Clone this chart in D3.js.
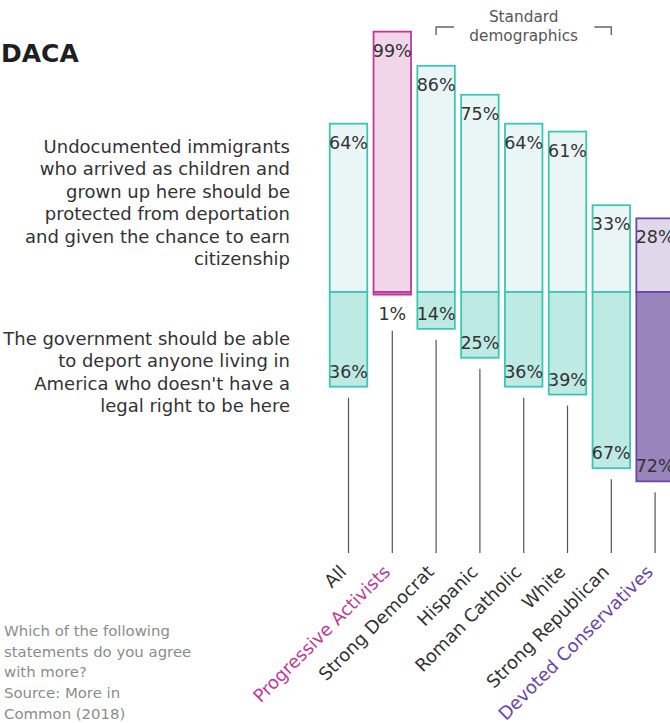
<!DOCTYPE html>
<html>
<head>
<meta charset="utf-8">
<script src="https://cdn.jsdelivr.net/npm/d3@7"></script>
<style>
  html, body { margin: 0; padding: 0; background: #fff; }
  svg { display: block; font-family: "DejaVu Sans", sans-serif; }
</style>
</head>
<body>
<svg id="chart" width="670" height="723"></svg>
<script>
// ---- data ----
const categories = ["All", "Progressive Activists", "Strong Democrat", "Hispanic",
  "Roman Catholic", "White", "Strong Republican", "Devoted Conservatives"];
const protectShare = [64, 99, 86, 75, 64, 61, 33, 28];
const deportShare = [36, 1, 14, 25, 36, 39, 67, 72];
const segments = ["standard", "progressive", "standard", "standard",
  "standard", "standard", "standard", "devoted"];
const statementProtect = ["Undocumented immigrants", "who arrived as children and",
  "grown up here should be", "protected from deportation",
  "and given the chance to earn", "citizenship"];
const statementDeport = ["The government should be able", "to deport anyone living in",
  "America who doesn't have a", "legal right to be here"];
const noteLines = ["Which of the following", "statements do you agree",
  "with more?", "Source: More in", "Common (2018)"];
const bracketLines = ["Standard", "demographics"];
const titleText = "DACA";

// ---- styles ----
const palette = {
  standard:    { stroke: "#3cc6b4", top: "#eaf6f5", bottom: "#bdeae3", label: "#333333" },
  progressive: { stroke: "#c0399a", top: "#f0d6e8", bottom: "#d77fbb", label: "#c0399a" },
  devoted:     { stroke: "#6a47a6", top: "#e0d8ea", bottom: "#9a84bc", label: "#6a47a6" }
};

const data = categories.map((c, i) => ({
  name: c, top: protectShare[i], bottom: deportShare[i], seg: segments[i]
}));

const svg = d3.select("#chart");
const baseY = 292;
const lineEndY = 553;

const x = d3.scaleBand()
  .domain(categories)
  .range([326.6, 677])
  .paddingInner(0.144)
  .paddingOuter(0.072);

const h = d3.scaleLinear().domain([0, 100]).range([0, 263]);

// Title
svg.append("text")
  .attr("x", 1).attr("y", 62)
  .attr("font-size", 25).attr("font-weight", "bold")
  .attr("fill", "#1f1f1f")
  .text(titleText);

// Text blocks
function block(lines, y0, lh, xr, size, color, anchor) {
  const t = svg.append("text")
    .attr("font-size", size).attr("fill", color)
    .attr("text-anchor", anchor);
  lines.forEach((l, i) => {
    t.append("tspan").attr("x", xr).attr("y", y0 + i * lh).text(l);
  });
  return t;
}
block(statementProtect, 153, 22.4, 290, 18, "#333333", "end");
block(statementDeport, 345, 22.4, 290, 18, "#333333", "end");
block(noteLines, 636, 20.7, 4, 14.9, "#8c8c8c", "start");

// Bracket "Standard demographics"
const bx0 = x("Strong Democrat") + x.bandwidth() / 2;
const bx1 = x("Strong Republican") + x.bandwidth() / 2;
const bmid = (bx0 + bx1) / 2;
svg.append("path")
  .attr("d", `M${bx0},35 V27 H${bx0 + 18}`)
  .attr("fill", "none").attr("stroke", "#666").attr("stroke-width", 1.4);
svg.append("path")
  .attr("d", `M${bx1 - 17},27 H${bx1} V35`)
  .attr("fill", "none").attr("stroke", "#666").attr("stroke-width", 1.4);
block(bracketLines, 22, 18.7, bmid, 15.3, "#555555", "middle");

// Bars
const g = svg.append("g");
const sw = 1.8;
data.forEach(d => {
  const p = palette[d.seg];
  const x0 = x(d.name);
  const cx = x0 + x.bandwidth() / 2;
  const topY = baseY - h(d.top);
  const botY = baseY + h(d.bottom);

  g.append("rect")
    .attr("x", x0).attr("y", topY)
    .attr("width", x.bandwidth()).attr("height", h(d.top))
    .attr("fill", p.top).attr("stroke", p.stroke).attr("stroke-width", sw);
  g.append("rect")
    .attr("x", x0).attr("y", baseY)
    .attr("width", x.bandwidth()).attr("height", h(d.bottom))
    .attr("fill", p.bottom).attr("stroke", p.stroke).attr("stroke-width", sw);

  // top label
  g.append("text")
    .attr("x", cx).attr("y", topY + 25)
    .attr("text-anchor", "middle").attr("font-size", 17.5).attr("fill", "#333")
    .text(d.top + "%");

  // bottom label
  const inside = h(d.bottom) >= 25;
  const labY = inside ? botY - 9 : botY + 25;
  g.append("text")
    .attr("x", cx).attr("y", labY)
    .attr("text-anchor", "middle").attr("font-size", 17.5).attr("fill", "#333")
    .text(d.bottom + "%");

  // connector line
  const startY = inside ? botY + 11 : labY + 11;
  g.append("line")
    .attr("x1", cx).attr("x2", cx)
    .attr("y1", startY).attr("y2", lineEndY)
    .attr("stroke", "#555").attr("stroke-width", 1.2);

  // category label
  g.append("text")
    .attr("transform", `translate(${cx - 1},${573}) rotate(-45)`)
    .attr("text-anchor", "end").attr("font-size", 18)
    .attr("fill", p.label)
    .text(d.name);
});
</script>
</body>
</html>
